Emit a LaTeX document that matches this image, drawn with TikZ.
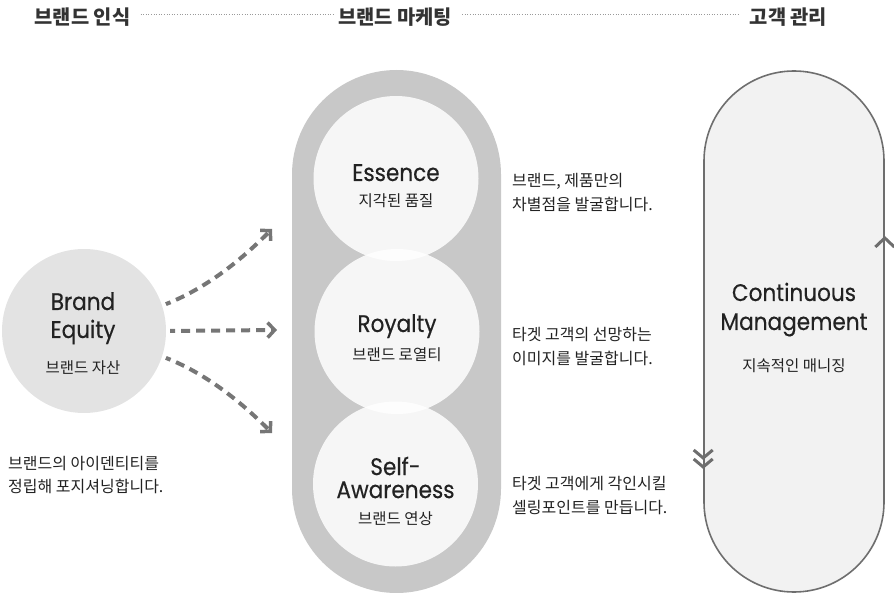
\documentclass[tikz,border=0pt]{standalone}
\usepackage{fontspec}
\setmainfont{Noto Sans CJK KR}
\newfontfamily\latf{Poppins}[FakeStretch=0.9,FakeBold=0.4]
\usetikzlibrary{arrows.meta}
\definecolor{txt}{HTML}{222222}
\definecolor{head}{HTML}{333333}
\definecolor{trackgray}{HTML}{C8C8C8}
\definecolor{equitygray}{HTML}{E3E3E3}
\definecolor{loopfill}{HTML}{F2F2F2}
\definecolor{loopline}{HTML}{6E6E6E}
\definecolor{arrowgray}{HTML}{767676}
\definecolor{dotgray}{HTML}{9A9A9A}
\begin{document}
\begin{tikzpicture}[x=1pt,y=-1pt,
  en/.style={font=\latf\fontsize{24}{23}\selectfont, text=txt, inner sep=0, anchor=base},
  ko/.style={font=\fontsize{15.5}{15.5}\selectfont, text=txt, inner sep=0, anchor=base},
  desc/.style={font=\fontsize{16}{16}\selectfont, text=txt, inner sep=0, anchor=base west},
  hd/.style={font=\bfseries\fontsize{19.8}{19.8}\selectfont, text=head, inner sep=0, anchor=base},
  bubble/.style={circle, fill=white, fill opacity=0.85, minimum size=165pt, inner sep=0},
  dashline/.style={arrowgray, line width=4pt, dash pattern=on 9pt off 6pt, dash phase=4pt,
     -{Straight Barb[length=7pt,width=15pt,line width=3.5pt]}},
  chev/.style={loopline, line width=3pt},
  dots/.style={dotgray, line width=0.9pt, dash pattern=on 1pt off 1.6pt}
]
\useasboundingbox (0,0) rectangle (894,593);

% header
\node[hd] (h1) at (82.5,25) {브랜드 인식};
\node[hd] (h2) at (395,25) {브랜드 마케팅};
\node[hd] (h3) at (788.5,25) {고객 관리};
\draw[dots] ([xshift=10pt,yshift=11pt]h1.base east) -- ([xshift=-4pt,yshift=11pt]h2.base west);
\draw[dots] ([xshift=10pt,yshift=11pt]h2.base east) -- ([xshift=-10pt,yshift=11pt]h3.base west);

% middle track
\node[fill=trackgray, rounded corners=104.5pt, minimum width=209pt, minimum height=523pt, inner sep=0] (track) at (396.5,331.5) {};
\node[bubble] (essence) at (396,178.5) {};
\node[bubble] (royalty) at (397,331.5) {};
\node[bubble] (self) at (395.5,484) {};

\node[en] (essT) at (396,181) {Essence};
\node[ko] (essK) at (396,206.5) {지각된 품질};
\node[en] (royT) at (397,332) {Royalty};
\node[ko] (royK) at (397,360.5) {브랜드 로열티};
\node[en, align=center, anchor=center] (selfT) at (395.5,477.5) {Self-\\Awareness};
\node[ko] (selfK) at (395.5,524) {브랜드 연상};

% descriptions
\node[desc] (d1a) at (512,187) {브랜드, 제품만의};
\node[desc] (d1b) at (512,211) {차별점을 발굴합니다.};
\node[desc] (d2a) at (512,341) {타겟 고객의 선망하는};
\node[desc] (d2b) at (512,365) {이미지를 발굴합니다.};
\node[desc] (d3a) at (512,489) {타겟 고객에게 각인시킬};
\node[desc] (d3b) at (512,513) {셀링포인트를 만듭니다.};

% brand equity
\node[circle, fill=equitygray, minimum size=164pt, inner sep=0] (equity) at (84,331) {};
\node[en] (eqT1) at (83,310) {Brand};
\node[en] (eqT2) at (83,338) {Equity};
\node[ko] (eqK) at (83,373.5) {브랜드 자산};
\node[desc] (ld1) at (8,469) {브랜드의 아이덴티티를};
\node[desc] (ld2) at (8,492) {정립해 포지셔닝합니다.};

% arrows
\coordinate (t1) at (272,229);
\coordinate (t2) at (277,330);
\coordinate (t3) at (272,433);
\draw[dashline, shorten <=4pt] (equity.18) .. controls (212,286) and (248,253) .. (t1);
\draw[dashline, shorten <=4pt] (equity.east) -- (t2);
\draw[dashline, shorten <=4pt] (equity.-18) .. controls (212,376) and (248,409) .. (t3);

% continuous management loop
\node[draw=loopline, line width=1.6pt, fill=loopfill, rounded corners=90pt, minimum width=180pt, minimum height=521pt, inner sep=0] (loop) at (794,331.5) {};
\node[en] (cmT1) at (794,301) {Continuous};
\node[en] (cmT2) at (794,330) {Management};
\node[ko] (cmK) at (794,372) {지속적인 매니징};

\draw[chev] ([xshift=-9.5pt]loop.east |- 0,247) -- (loop.east |- 0,238) -- ([xshift=9.5pt]loop.east |- 0,247);
\draw[chev] ([xshift=-9.5pt]loop.west |- 0,450) -- (loop.west |- 0,458) -- ([xshift=9.5pt]loop.west |- 0,450);
\draw[chev] ([xshift=-9.5pt]loop.west |- 0,459) -- (loop.west |- 0,467) -- ([xshift=9.5pt]loop.west |- 0,459);
\end{tikzpicture}
\end{document}
